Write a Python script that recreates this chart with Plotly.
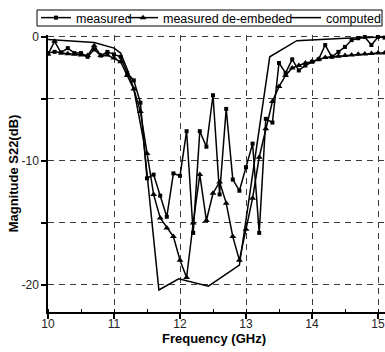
import plotly.graph_objects as go

freq = [10.0, 10.1, 10.2, 10.3, 10.4, 10.5, 10.6, 10.7, 10.8, 10.9,
        11.0, 11.1, 11.2, 11.3, 11.4, 11.5, 11.6, 11.7, 11.8, 11.9,
        12.0, 12.1, 12.2, 12.3, 12.4, 12.5, 12.6, 12.7, 12.8, 12.9,
        13.0, 13.1, 13.2, 13.3, 13.4, 13.5, 13.6, 13.7, 13.8, 13.9,
        14.0, 14.1, 14.2, 14.3, 14.4, 14.5, 14.6, 14.7, 14.8, 14.9,
        15.0, 15.1]

measured = [-1.3, -1.2, -1.25, -0.9, -1.3, -1.3, -1.6, -1.0, -1.5, -1.2,
            -1.4, -1.6, -2.9, -3.5, -5.3, -11.4, -11.1, -12.8, -14.5, -11.0,
            -11.2, -7.6, -15.8, -7.6, -8.85, -4.7, -12.7, -5.8, -11.5, -12.4,
            -10.5, -8.6, -15.8, -6.6, -6.9, -2.1, -2.9, -1.8, -2.7, -2.3,
            -2.0, -1.8, -0.65, -1.6, -1.2, -0.8, -0.25, -0.1, 0.0, -0.65,
            0.0, -0.05]

deembedded = [-1.4, -0.35, -1.3, -1.35, -1.4, -1.45, -1.5, -0.7, -1.5, -1.45,
              -1.7, -2.0, -3.1, -4.2, -6.0, -9.4, -12.7, -14.6, -15.4, -16.1,
              -18.0, -19.4, -15.0, -11.1, -14.8, -12.6, -11.7, -13.4, -16.1, -18.0,
              -15.5, -13.0, -9.7, -7.4, -5.2, -4.0, -3.1, -2.5, -2.3, -2.1,
              -2.0, -1.8, -1.65, -1.6, -1.55, -1.5, -1.45, -1.4, -1.38, -1.33,
              -1.3, -1.3]

comp_freq = [10.0, 10.7, 11.0, 11.1, 11.2, 11.3, 11.45, 11.68, 11.98, 12.43,
             12.9, 13.36, 13.77, 14.5, 15.1]
computed = [-0.2, -0.45, -0.9, -1.3, -2.6, -4.2, -8.4, -20.4, -19.5, -20.1,
            -18.4, -1.6, -0.3, -0.1, 0.0]

xticks = [10, 11, 12, 13, 14, 15]
xticklabels = ["10", "11", "12", "13", "14", "15"]
yticks = [0, -5, -10, -15, -20]
yticklabels = ["0", "", "-10", "", "-20"]

FONT = "Arial, Liberation Sans, sans-serif"

fig = go.Figure()
fig.add_trace(go.Scatter(
    x=freq, y=measured, name="measured", mode="lines+markers",
    line=dict(color="black", width=1.5),
    marker=dict(symbol="square", size=4, color="black"),
    legend="legend"))
fig.add_trace(go.Scatter(
    x=freq, y=deembedded, name="measured de-embeded", mode="lines+markers",
    line=dict(color="black", width=1.5),
    marker=dict(symbol="triangle-up", size=6, color="black"),
    legend="legend2"))
fig.add_trace(go.Scatter(
    x=comp_freq, y=computed, name="computed", mode="lines",
    line=dict(color="black", width=1.5),
    legend="legend3"))

W, H = 385, 352
L, R, T, B = 48, 0, 35, 40
pw, ph = W - L - R, H - T - B

def px2paper_x(px):
    return (px - L) / pw

def px2paper_y(py):
    return (H - B - py) / ph

leg_common = dict(orientation="h", xref="container", yref="container",
                  xanchor="left", yanchor="middle", bgcolor="rgba(0,0,0,0)",
                  borderwidth=0, itemwidth=30,
                  font=dict(family=FONT, size=12.5, color="black"))
ly = 1 - 18 / H

fig.update_layout(
    width=W, height=H,
    margin=dict(l=L, r=R, t=T, b=B, autoexpand=False),
    paper_bgcolor="white", plot_bgcolor="white",
    font=dict(family=FONT, color="#222"),
    showlegend=True,
    legend=dict(x=36 / W, y=ly, **leg_common),
    legend2=dict(x=123 / W, y=ly, **leg_common),
    legend3=dict(x=286 / W, y=ly, **leg_common),
    shapes=[dict(type="rect", xref="paper", yref="paper",
                 x0=px2paper_x(37), x1=px2paper_x(382),
                 y0=px2paper_y(26), y1=px2paper_y(10),
                 line=dict(color="black", width=1))],
    annotations=[dict(text="<b>Frequency (GHz)</b>", xref="paper", yref="paper",
                      x=px2paper_x(214), y=px2paper_y(338),
                      xanchor="center", yanchor="middle", showarrow=False,
                      font=dict(size=13, color="black", family=FONT))],
)

grid = dict(showgrid=True, gridcolor="#3a3a3a", gridwidth=1.3, griddash="6px,5px")

fig.update_xaxes(
    range=[10, 15.106], tickvals=xticks, ticktext=xticklabels,
    ticks="outside", ticklen=5, tickwidth=1.5, tickcolor="black",
    ticklabelstandoff=-5,
    showline=True, linecolor="black", linewidth=1.5,
    zeroline=False, tickfont=dict(size=12, color="#222", family=FONT),
    minor=dict(dtick=0.5, tick0=10, ticks="inside", ticklen=3, tickwidth=1.2,
               tickcolor="black", showgrid=False),
    **grid)

fig.update_yaxes(
    range=[-22.18, 0.16], tickvals=yticks, ticktext=yticklabels,
    ticks="outside", ticklen=5, tickwidth=1.5, tickcolor="black",
    showline=True, linecolor="black", linewidth=1.5,
    zeroline=False, tickfont=dict(size=12, color="#222", family=FONT),
    title=dict(text="<b>Magnitude S22(dB)</b>", standoff=0,
               font=dict(size=13, color="black", family=FONT)),
    **grid)

fig.write_html("out.html")
